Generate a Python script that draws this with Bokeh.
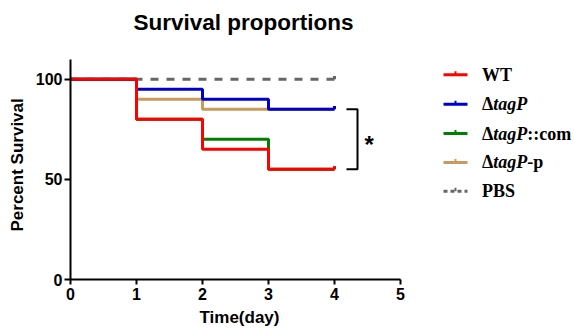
from bokeh.plotting import figure
from bokeh.models import Range1d, FixedTicker, Label, ColumnDataSource, Title
from bokeh.embed import file_html
from bokeh.resources import INLINE

# ---------------- data ----------------
days = [0, 1, 2, 3, 4]
wt = [100, 80, 65, 55, 55]
tagp = [100, 95, 90, 85, 85]
tagp_com = [100, 80, 70, 55, 55]
tagp_p = [100, 90, 85, 85, 85]
pbs = [100, 100, 100, 100, 100]
x_ticks = [0, 1, 2, 3, 4, 5]
y_ticks = [0, 50, 100]
x_bounds = (0, 5)
y_bounds = (0, 110)
title_text = "Survival proportions"
x_label = "Time(day)"
y_label = "Percent  Survival"

# ---------------- layout ----------------
W, H = 574, 331
LEFT, BOTTOM = 70, 51
frame_w, frame_h = W - LEFT, H - BOTTOM
PXD = 66.0    # px per day
PXU = 2.01    # px per percent
IMG_L = LEFT
IMG_B = frame_h


def X(px):
    return (px - IMG_L) / PXD


def Y(py):
    return (IMG_B - py) / PXU


SANS = "Liberation Sans"
SERIF = "Liberation Serif"

p = figure(width=W, height=H, output_backend="svg", toolbar_location=None,
           x_range=Range1d(0, frame_w / PXD), y_range=Range1d(0, frame_h / PXU),
           min_border_left=LEFT, min_border_bottom=BOTTOM,
           min_border_top=0, min_border_right=0)
p.outline_line_color = None
p.grid.grid_line_color = None
p.background_fill_color = "white"
p.border_fill_color = "white"

for ax in (p.xaxis[0], p.yaxis[0]):
    ax.axis_line_width = 2
    ax.axis_line_color = "black"
    ax.major_tick_line_width = 2
    ax.major_tick_line_color = "black"
    ax.major_tick_in = 0
    ax.minor_tick_out = 0
    ax.minor_tick_in = 0
    ax.major_label_text_font = SANS
    ax.major_label_text_font_style = "bold"
    ax.major_label_text_font_size = "16px"
    ax.major_label_text_color = "black"

p.xaxis.ticker = FixedTicker(ticks=x_ticks)
p.xaxis.bounds = x_bounds
p.xaxis.major_tick_out = 5
p.xaxis.major_label_standoff = 3

p.yaxis.ticker = FixedTicker(ticks=y_ticks)
p.yaxis.bounds = y_bounds
p.yaxis.major_tick_out = 6
p.yaxis.major_label_standoff = 2

# axis titles, placed as side-panel titles so they can sit off-centre like the reference
p.add_layout(Title(text=x_label, align="left", offset=129, standoff=8,
                   vertical_align="middle", text_font=SANS, text_font_style="bold",
                   text_font_size="17px", text_color="black"), "below")
p.add_layout(Title(text=y_label, align="left", offset=48, standoff=10,
                   vertical_align="middle", text_font=SANS, text_font_style="bold",
                   text_font_size="17px", text_color="black"), "left")

series = [
    ("PBS", pbs, "#666666", "8 8"),
    ("tagP-p", tagp_p, "#C99A5B", "solid"),
    ("tagP::com", tagp_com, "#008000", "solid"),
    ("tagP", tagp, "#0000CC", "solid"),
    ("WT", wt, "#FF0000", "solid"),
]

for name, ys, col, dash in series:
    p.step(days, ys, mode="after", line_color=col, line_width=3, line_dash=dash)
    src = ColumnDataSource(dict(x0=[days[-1]], y0=[ys[-1]], y1=[ys[-1] + 1.6]))
    p.segment(x0="x0", y0="y0", x1="x0", y1="y1", source=src, line_color=col, line_width=3)

# significance bracket
bx0, bx1 = X(346), X(357)
p.line([bx0, bx1, bx1, bx0], [tagp[-1], tagp[-1], wt[-1], wt[-1]],
       line_color="black", line_width=2)
p.add_layout(Label(x=X(364), y=(tagp[-1] + wt[-1]) / 2, y_offset=-5, text="*",
                   text_font=SANS, text_font_style="bold", text_font_size="24px",
                   text_baseline="middle", text_align="left", text_color="black"))

# title
p.add_layout(Label(x=X(133), y=Y(22), text=title_text, text_font=SANS,
                   text_font_style="bold", text_font_size="22.5px",
                   text_baseline="middle", text_align="left", text_color="black"))

# legend (drawn by hand to allow italic parts)
legend_rows = [
    ("WT", "#FF0000", "solid", [("WT", "bold")]),
    ("tagP", "#0000CC", "solid", [("\u0394", "bold"), ("tagP", "bold italic")]),
    ("com", "#008000", "solid", [("\u0394", "bold"), ("tagP", "bold italic"), ("::com", "bold")]),
    ("p", "#C99A5B", "solid", [("\u0394", "bold"), ("tagP", "bold italic"), ("-p", "bold")]),
    ("PBS", "#666666", "4 3", [("PBS", "bold")]),
]
row_y = [74.5, 104, 133.5, 162.5, 191.5]
FS = 18
seg_off = {"\u0394": 0.62 * FS, "tagP": 1.889 * FS}
for (key, col, dash, parts), ry in zip(legend_rows, row_y):
    p.line([X(443), X(467)], [Y(ry), Y(ry)], line_color=col, line_width=3, line_dash=dash)
    p.line([X(455), X(455)], [Y(ry), Y(ry - 3.5)], line_color=col, line_width=2)
    xoff = 481.5
    for txt, style in parts:
        p.add_layout(Label(x=X(xoff), y=Y(ry), text=txt, text_font=SERIF,
                           text_font_style=style, text_font_size=f"{FS}px",
                           text_baseline="middle", text_align="left", text_color="black"))
        xoff += seg_off.get(txt, 0)

open("out.html", "w").write(file_html(p, INLINE))
